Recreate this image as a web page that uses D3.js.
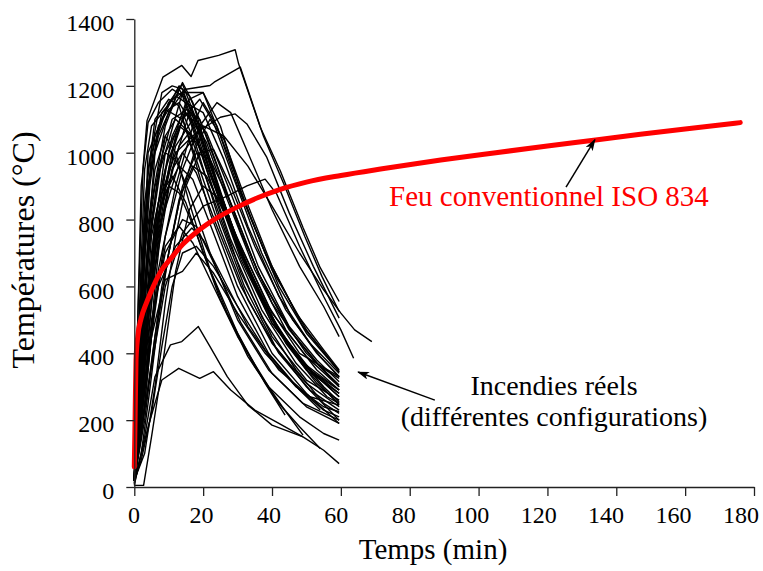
<!DOCTYPE html>
<html>
<head>
<meta charset="utf-8">
<script src="https://cdn.jsdelivr.net/npm/d3@7"></script>
<style>
  body { margin: 0; background: #fff; }
  svg { display: block; font-family: "Liberation Serif", "Times New Roman", serif; }
</style>
</head>
<body>
<script>
const fire01 = [[0,20],[1,500],[2.5,950],[3.7,1096],[8.3,1226],[13.8,1261],[16.5,1228],[18.5,1276],[24.5,1291],[29.3,1308],[30.3,1266],[36.6,1076],[42.4,946],[49,776],[54,656],[59.5,555]];
const fire02 = [[0,20],[2,600],[5,1000],[10,1150],[15,1190],[22,1201],[23.2,1211],[30.8,1256],[31.8,1225],[37.5,1050],[43.5,905],[49.5,750],[54.5,630],[59.5,525]];
const fire03 = [[0,20],[3,500],[7,850],[12,1000],[18,1060],[25,1106],[29.3,1116],[32.7,1086],[38.5,986],[45,820],[52,660],[59.5,505]];
const fire04 = [[0,20],[4,300],[9,600],[14,760],[20,840],[27,870],[32.7,901],[38,921],[41.4,876],[48,720],[55,570],[60,470],[63.7,385]];
const fire05 = [[0,20],[3,450],[8,800],[14,1000],[20,1080],[26,1050],[33,960],[40,840],[48,700],[55,590],[60,520],[64,470],[69,435]];
const fire06 = [[0,20],[1,300],[3,800],[6,1050],[10,1150],[14,1205],[18,1100],[24,900],[30,720],[40,500],[50,360],[59.5,270]];
const fire07 = [[0,20],[2,400],[5,850],[9,1080],[13,1190],[17,1120],[22,960],[30,740],[40,520],[50,390],[59.5,300]];
const fire08 = [[0,20],[2,250],[5,700],[9,1000],[14,1180],[19,1080],[25,880],[32,680],[42,470],[51,340],[59.5,245]];
const fire09 = [[0,20],[1.5,350],[4,900],[8,1120],[12,1170],[15,1150],[20,1000],[27,800],[35,600],[45,420],[55,300],[59.5,255]];
const fire10 = [[0,100],[2,500],[4,1000],[8,1100],[13,1200],[16,1170],[21,1050],[28,850],[36,640],[46,460],[54,360],[59.5,325]];
const fire11 = [[0,20],[3,350],[6,750],[10,1000],[15,1150],[20,1120],[26,980],[33,780],[42,570],[51,430],[59.5,340]];
const fire12 = [[0,20],[2.5,300],[6,650],[11,950],[16,1120],[21,1060],[28,880],[36,660],[45,480],[53,380],[59.5,315]];
const fire13 = [[0,20],[1,200],[3,600],[7,950],[11,1100],[14,1120],[18,1020],[24,820],[32,600],[41,420],[50,300],[59.5,200]];
const fire14 = [[0,20],[1,350],[3,850],[6,1100],[10,1160],[13,1140],[17,1000],[22,820],[30,600],[40,400],[50,280],[59.5,190]];
const fire15 = [[0,20],[2,400],[5,800],[9,1050],[12,1100],[16,1060],[21,920],[28,720],[37,510],[47,350],[55,250],[59.5,220]];
const fire16 = [[0,20],[3,300],[7,650],[12,900],[17,1080],[20,1150],[24,1080],[30,900],[38,700],[47,520],[55,410],[59.5,350]];
const fire17 = [[0,20],[4,300],[8,600],[13,850],[18,1020],[22,1100],[26,1040],[32,870],[40,660],[49,480],[59.5,345]];
const fire18 = [[0,20],[2,350],[5,750],[9,950],[14,1100],[19,1160],[23,1090],[29,920],[37,700],[46,500],[54,390],[59.5,330]];
const fire19 = [[0,20],[3,400],[7,800],[12,1020],[17,1100],[21,1030],[27,860],[35,650],[44,470],[53,350],[59.5,290]];
const fire20 = [[0,20],[1,250],[4,700],[8,980],[13,1080],[18,1040],[24,880],[31,690],[40,490],[50,350],[59.5,280]];
const fire21 = [[0,20],[1,300],[3,700],[6,950],[9,1050],[12,1000],[16,850],[22,650],[30,460],[38,310],[43.8,215]];
const fire22 = [[0,20],[2,300],[5,650],[8,880],[11,930],[15,850],[20,700],[27,520],[35,360],[43,240],[49,155]];
const fire23 = [[0,10],[1.5,250],[4,600],[7,820],[10,900],[13,880],[18,760],[25,560],[33,390],[42,250],[48,180],[54,115]];
const fire24 = [[0,20],[3,250],[6,550],[9,720],[13,780],[17,730],[23,600],[30,450],[39,300],[48,210],[55,160],[59.5,140]];
const fire25 = [[0,20],[2,200],[5,500],[9,700],[14,800],[18,780],[24,650],[31,490],[40,340],[50,240],[59.5,190]];
const fire26 = [[0,5],[3,150],[6,330],[10.5,425],[13.8,435],[18.6,480],[22,420],[27,330],[33,245],[40,185],[49,150],[55,110],[59.5,70]];
const fire27 = [[0,10],[4,180],[8,320],[12.9,355],[19,325],[23,345],[28,290],[35,230],[42,190],[49,150]];
const fire28 = [[0,20],[2,200],[5,450],[9,620],[14,645],[18,700],[23,640],[30,520],[38,400],[47,300],[55,240],[59.5,225]];
const fire29 = [[0,20],[3,300],[7,600],[12,720],[16.7,775],[20,740],[26,620],[33,480],[42,350],[51,270],[59.5,245]];
const fire30 = [[0,20],[4,400],[9,750],[14,950],[19,1080],[24,1150],[28,1120],[33,1000],[40,830],[48,660],[55,540],[59.5,450]];
const fire31 = [[0,20],[2,300],[6,800],[11,1050],[16,1160],[20,1180],[25,1080],[31,880],[40,650],[50,470],[59.5,345]];
const fire32 = [[0,20],[0.5,300],[2,900],[4,1090],[7,1150],[11,1190],[14,1170],[18,1050],[24,850],[31,640],[40,450],[50,320],[59.5,260]];
const fire33 = [[0,20],[1,400],[3,950],[5,1080],[9,1130],[14,1100],[19,950],[25,770],[33,560],[42,400],[51,290],[59.5,230]];
const fire34 = [[0,20],[2,200],[4,500],[7,800],[11,1000],[15,1130],[19,1100],[24,960],[31,760],[40,550],[50,400],[59.5,305]];
const fire35 = [[0,20],[3,200],[6,450],[10,700],[14,900],[18,1000],[22,980],[28,850],[36,640],[45,470],[53,370],[59.5,300]];
const fire36 = [[0,20],[1,150],[3,400],[6,700],[9,880],[13,960],[17,920],[23,760],[30,570],[39,400],[48,290],[54,230]];
const fire37 = [[0,20],[2,500],[4,900],[7,1050],[10,1120],[14,1210],[17,1150],[22,980],[29,760],[38,540],[48,380],[59.5,290]];
const fire38 = [[0,20],[1.5,400],[4,950],[8,1180],[11,1200],[14,1190],[18,1080],[24,880],[31,680],[40,490],[50,360],[59.5,280]];
const fire39 = [[0,5],[2.7,5],[5,150],[8,350],[12,645],[16,830],[20,900],[25,860],[31,720],[39,540],[48,400],[59.5,330]];
const fire40 = [[0,20],[3,600],[6,1000],[10,1120],[14,1180],[20,1180],[27,1000],[34,800],[42,600],[50,460],[59.5,345]];
const fire41 = [[0,20],[2,150],[4,350],[6,600],[8,800],[11,950],[14,1000],[18,940],[24,780],[31,600],[40,430],[50,310],[59.5,240]];
const fire42 = [[0,20],[1,100],[3,300],[5,550],[7,750],[10,900],[13,1020],[16,1060],[20,1000],[26,840],[33,650],[42,470],[52,340],[59.5,270]];
const fire43 = [[0,20],[2,100],[4,250],[7,500],[10,700],[13,860],[17,960],[21,930],[27,800],[35,600],[44,430],[53,310],[59.5,250]];
const fire44 = [[0,30],[1,200],[2,450],[4,750],[6,900],[9,1000],[12,980],[16,880],[22,700],[30,500],[39,350],[49,250],[59.5,200]];
const fire45 = [[0,20],[3,100],[6,300],[9,550],[12,750],[15,900],[19,1000],[23,1010],[28,900],[35,720],[44,530],[53,400],[59.5,330]];
const fire46 = [[0,20],[1.5,150],[3,380],[5,620],[8,850],[12,1050],[15,1120],[19,1060],[25,880],[32,680],[41,480],[51,350],[59.5,290]];
const fire47 = [[0,40],[1,250],[2.5,600],[4.5,900],[7,1080],[10,1130],[13,1150],[16,1100],[21,950],[28,740],[37,530],[47,370],[56,270],[59.5,250]];
const fire48 = [[0,20],[2,80],[5,220],[8,420],[11,600],[14,700],[18,720],[23,660],[30,540],[38,410],[47,300],[55,230],[59.5,210]];

const realFires = [fire01, fire02, fire03, fire04, fire05, fire06, fire07, fire08, fire09, fire10,
  fire11, fire12, fire13, fire14, fire15, fire16, fire17, fire18, fire19, fire20,
  fire21, fire22, fire23, fire24, fire25, fire26, fire27, fire28, fire29, fire30,
  fire31, fire32, fire33, fire34, fire35, fire36, fire37, fire38, fire39, fire40,
  fire41, fire42, fire43, fire44, fire45, fire46, fire47, fire48];

// ISO 834 standard fire curve
const isoTime = [0, 0.25, 0.5, 1, 2, 3.5, 5.5, 8, 10.5, 14, 18, 24, 30, 36, 42, 50, 60, 72, 89, 105, 120, 134, 147, 160, 176];
const isoTemp = [60, 220, 380, 450, 505, 550, 600, 650, 682, 725, 762, 805, 838, 866, 889, 912, 932, 952, 978, 1000, 1020, 1038, 1055, 1071, 1090];

// axis ticks
const xTicks = [0, 20, 40, 60, 80, 100, 120, 140, 160, 180];
const yTicks = [0, 200, 400, 600, 800, 1000, 1200, 1400];

// texts
const xTitle = 'Temps (min)';
const yTitle = 'Températures (°C)';
const isoLabel = 'Feu conventionnel ISO 834';
const realLabel = ['Incendies réels', '(différentes configurations)'];

// annotation anchors in data units [time, temperature]
const isoLabelAt = [74, 840];
const isoArrow = [[125.4, 897], [133.8, 1039]];
const realLabelAt = [[121.9, 275], [121.9, 182]];
const realArrow = [[87.3, 260], [65, 344]];

const width = 763;
const height = 571;

const xScale = d3.scaleLinear()
  .domain([0, 180])
  .range([134.3, 754]);

const yScale = d3.scaleLinear()
  .domain([0, 1400])
  .range([487, 19]);

// the tick labels of the original sit on a slightly tighter grid than the ticks
const xLabelScale = d3.scaleLinear()
  .domain([0, 180])
  .range([133.5, 740.5]);

const yLabelScale = d3.scaleLinear()
  .domain([0, 1400])
  .range([491, 23]);

const svg = d3.select('body')
  .append('svg')
  .attr('width', width)
  .attr('height', height);

// arrow head
svg.append('defs')
  .append('marker')
  .attr('id', 'head')
  .attr('markerUnits', 'userSpaceOnUse')
  .attr('markerWidth', 12)
  .attr('markerHeight', 8)
  .attr('refX', 11)
  .attr('refY', 4)
  .attr('orient', 'auto')
  .append('path')
  .attr('d', 'M0,0 L12,4 L0,8 L3,4 Z')
  .attr('fill', '#000');

const line = d3.line()
  .x(d => xScale(d[0]))
  .y(d => yScale(d[1]));

// real fires
svg.append('g')
  .selectAll('path')
  .data(realFires)
  .join('path')
  .attr('d', line)
  .attr('fill', 'none')
  .attr('stroke', '#000')
  .attr('stroke-width', 1.4)
  .attr('stroke-linejoin', 'round');

// ISO 834 curve
const isoData = isoTime.map((t, i) => [t, isoTemp[i]]);
svg.append('path')
  .datum(isoData)
  .attr('d', line.curve(d3.curveMonotoneX))
  .attr('fill', 'none')
  .attr('stroke', '#f00')
  .attr('stroke-width', 5)
  .attr('stroke-linecap', 'round');

// Axes (ticks only)
const yAxis = d3.axisLeft(yScale).tickValues(yTicks).tickSize(8).tickSizeOuter(0).tickFormat('');
const gy = svg.append('g')
  .attr('transform', `translate(${xScale(0)},0)`)
  .call(yAxis);

const xAxis = d3.axisBottom(xScale).tickValues(xTicks).tickSize(9).tickSizeOuter(0).tickFormat('');
const gx = svg.append('g')
  .attr('transform', `translate(0,${yScale(0)})`)
  .call(xAxis);

[gx, gy].forEach(g => {
  g.select('.domain').attr('stroke', '#222').attr('stroke-width', 1.3);
  g.selectAll('.tick line').attr('stroke', '#222').attr('stroke-width', 1.3);
});

// tick labels
const yLabelAxis = d3.axisLeft(yLabelScale).tickValues(yTicks).tickSize(0).tickPadding(20).tickFormat(d3.format('d'));
svg.append('g')
  .attr('transform', `translate(${xScale(0)},0)`)
  .call(yLabelAxis)
  .attr('font-family', '"Liberation Serif", serif')
  .attr('font-size', 24)
  .call(g => g.select('.domain').remove());

const xLabelAxis = d3.axisBottom(xLabelScale).tickValues(xTicks).tickSize(0).tickPadding(19).tickFormat(d3.format('d'));
svg.append('g')
  .attr('transform', `translate(0,${yScale(0)})`)
  .call(xLabelAxis)
  .attr('font-family', '"Liberation Serif", serif')
  .attr('font-size', 24)
  .call(g => g.select('.domain').remove());

// axis titles
svg.append('text')
  .attr('x', 433)
  .attr('y', 559)
  .attr('text-anchor', 'middle')
  .style('font-size', '29px')
  .text(xTitle);

svg.append('text')
  .attr('transform', 'translate(34,250) rotate(-90)')
  .attr('text-anchor', 'middle')
  .style('font-size', '32px')
  .text(yTitle);

// annotations
svg.append('text')
  .attr('x', xScale(isoLabelAt[0]))
  .attr('y', yScale(isoLabelAt[1]))
  .attr('fill', '#f00')
  .style('font-size', '29px')
  .text(isoLabel);

svg.append('line')
  .attr('x1', xScale(isoArrow[0][0]))
  .attr('y1', yScale(isoArrow[0][1]))
  .attr('x2', xScale(isoArrow[1][0]))
  .attr('y2', yScale(isoArrow[1][1]))
  .attr('stroke', '#000')
  .attr('stroke-width', 1.5)
  .attr('marker-end', 'url(#head)');

svg.append('g')
  .selectAll('text')
  .data(realLabel)
  .join('text')
  .attr('x', (d, i) => xScale(realLabelAt[i][0]))
  .attr('y', (d, i) => yScale(realLabelAt[i][1]))
  .attr('text-anchor', 'middle')
  .style('font-size', '28px')
  .text(d => d);

svg.append('line')
  .attr('x1', xScale(realArrow[0][0]))
  .attr('y1', yScale(realArrow[0][1]))
  .attr('x2', xScale(realArrow[1][0]))
  .attr('y2', yScale(realArrow[1][1]))
  .attr('stroke', '#000')
  .attr('stroke-width', 1.5)
  .attr('marker-end', 'url(#head)');
</script>
</body>
</html>
